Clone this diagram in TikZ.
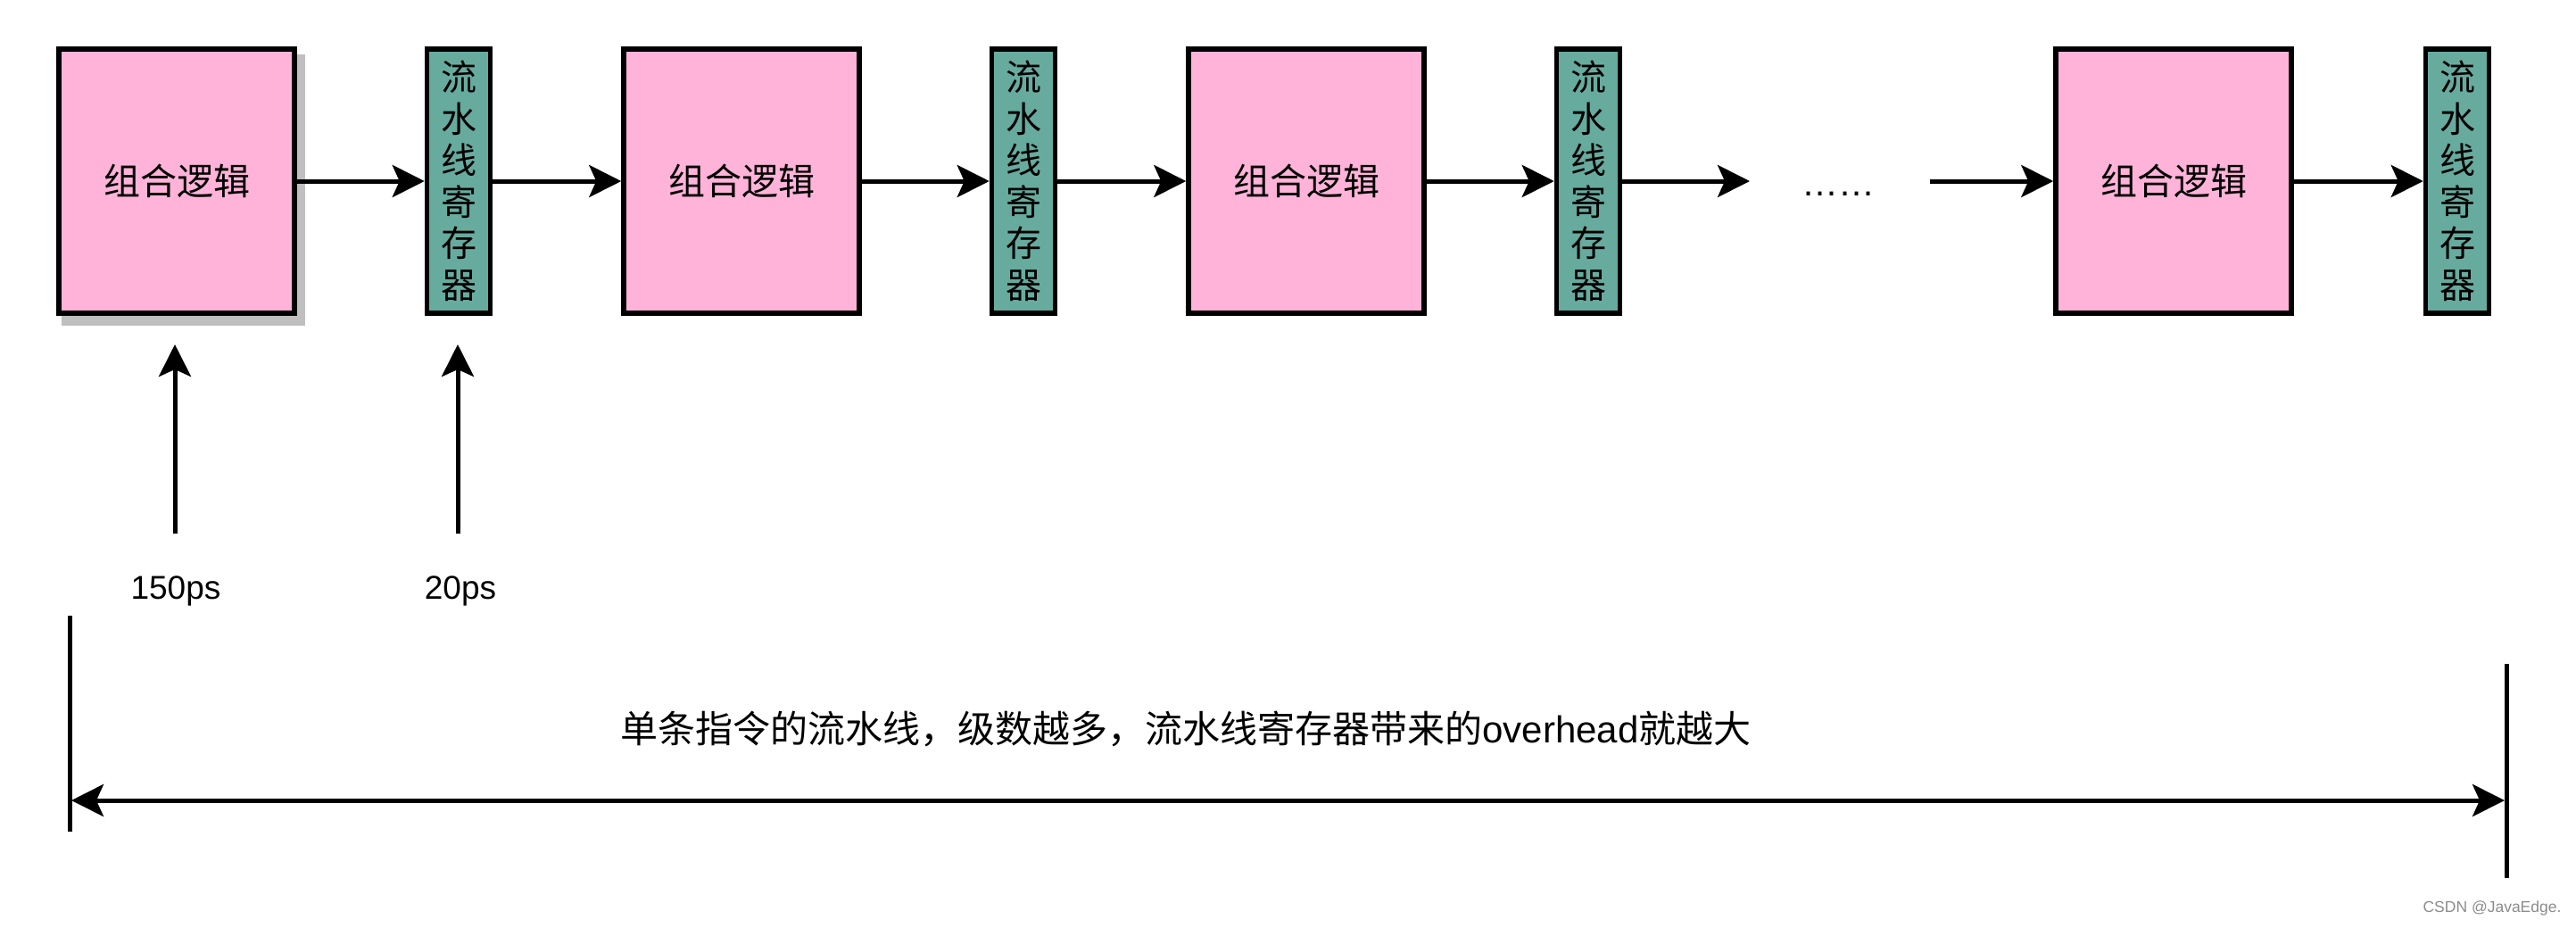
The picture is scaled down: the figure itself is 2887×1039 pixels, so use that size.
\documentclass[tikz,border=0pt]{standalone}
\usepackage{fontspec}
\setmainfont{Liberation Sans}
\newfontfamily\cjk{Noto Sans CJK SC}
\usetikzlibrary{arrows.meta}
\definecolor{pinkfill}{RGB}{255,179,217}
\definecolor{tealfill}{RGB}{103,171,159}
\definecolor{shadowgray}{RGB}{191,191,191}
\definecolor{wmgray}{RGB}{140,140,140}
\begin{document}
\begin{tikzpicture}[x=1pt,y=-1pt,
  logicbox/.style={draw=black, line width=5.5pt, fill=pinkfill, minimum width=264pt,
    minimum height=296pt, inner sep=0pt, font=\cjk\fontsize{41}{41}\selectfont},
  regbox/.style={draw=black, line width=5.5pt, fill=tealfill, minimum width=71pt,
    minimum height=296pt, inner sep=0pt, align=center, font=\cjk\fontsize{40}{46.5}\selectfont},
  tipa/.tip={Stealth[length=36pt,width=36pt,inset=8pt]},
  flow/.style={line width=5pt, -tipa},
  span/.style={line width=5pt, tipa-tipa},
  bar/.style={line width=5pt},
  lbl/.style={inner sep=0pt, font=\fontsize{37}{37}\selectfont},
  note/.style={inner sep=0pt, font=\fontsize{42}{42}\selectfont},
  wm/.style={inner sep=0pt, text=wmgray, font=\fontsize{17.5}{17.5}\selectfont}
]
\useasboundingbox (0,0) rectangle (2887,1039);
\fill[white] (0,0) rectangle (2887,1039);
% shadow of the first box
\fill[shadowgray] (69,61) rectangle (342,365);
% boxes
\node[logicbox] (b1) at (198,203) {组合逻辑};
\node[regbox]   (r1) at (514,203) {流\\水\\线\\寄\\存\\器};
\node[logicbox] (b2) at (831,203) {组合逻辑};
\node[regbox]   (r2) at (1147,203) {流\\水\\线\\寄\\存\\器};
\node[logicbox] (b3) at (1464,203) {组合逻辑};
\node[regbox]   (r3) at (1780,203) {流\\水\\线\\寄\\存\\器};
\node[logicbox] (b4) at (2436,203) {组合逻辑};
\node[regbox]   (r4) at (2754,203) {流\\水\\线\\寄\\存\\器};
\node[inner sep=0pt, font=\fontsize{41}{41}\selectfont] (dots) at (2060,217) {……};
\coordinate (d1) at (1961,203);
\coordinate (d2) at (2163,203);
% flow arrows
\draw[flow] (b1.east) -- (r1.west);
\draw[flow] (r1.east) -- (b2.west);
\draw[flow] (b2.east) -- (r2.west);
\draw[flow] (r2.east) -- (b3.west);
\draw[flow] (b3.east) -- (r3.west);
\draw[flow] (r3.east) -- (d1);
\draw[flow] (d2) -- (b4.west);
\draw[flow] (b4.east) -- (r4.west);
% delay arrows
\coordinate (u1s) at (196,598);
\coordinate (u1e) at (196,386);
\coordinate (u2s) at (513,598);
\coordinate (u2e) at (513,386);
\draw[flow] (u1s) -- (u1e);
\draw[flow] (u2s) -- (u2e);
\node[lbl] (l1) at (197,662) {150ps};
\node[lbl] (l2) at (516,662) {20ps};
% span
\coordinate (lt) at (78,690);
\coordinate (lb) at (78,932);
\coordinate (rt) at (2809,744);
\coordinate (rb) at (2809,984);
\draw[bar] (lt) -- (lb);
\draw[bar] (rt) -- (rb);
\coordinate (al) at (80,897);
\coordinate (ar) at (2807,897);
\draw[span] (al) -- (ar);
\node[note] (t) at (1329,817) {{\cjk 单条指令的流水线，级数越多，流水线寄存器带来的}overhead{\cjk 就越大}};
\node[wm] (w) at (2793,1018) {CSDN @JavaEdge.};
\end{tikzpicture}
\end{document}
